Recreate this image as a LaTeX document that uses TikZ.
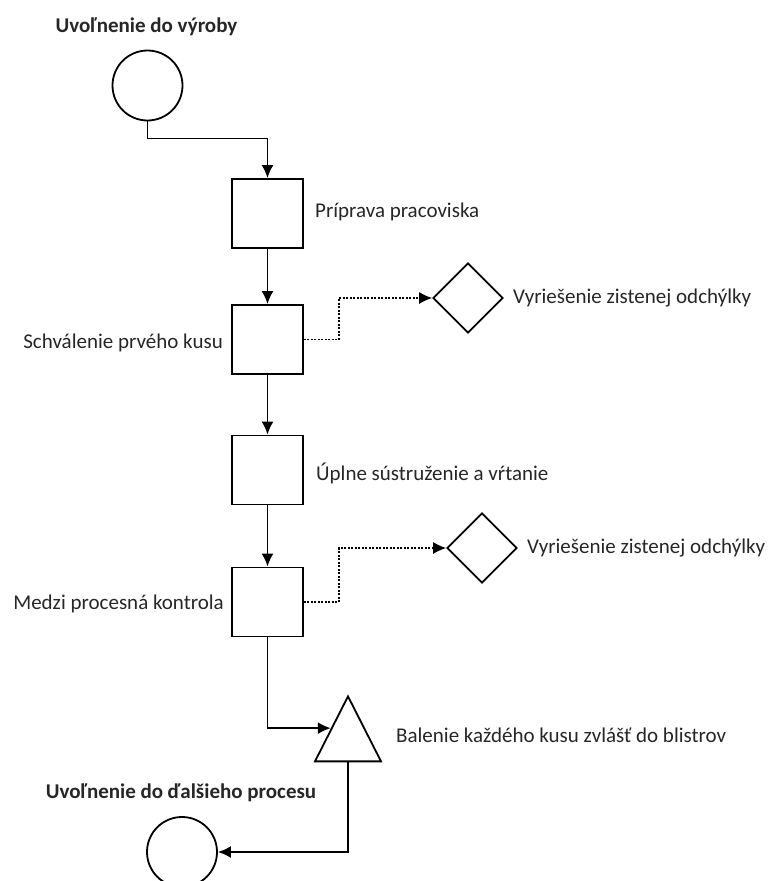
\documentclass[tikz,border=0pt]{standalone}
\usepackage{fontspec}
\setmainfont{Carlito}
\usepackage{tikz}
\usetikzlibrary{shapes.geometric,arrows.meta}

\begin{document}
\begin{tikzpicture}[x=1pt,y=-1pt,
  every node/.style={inner sep=0pt,font=\fontsize{21}{25}\selectfont,text=black!85},
  terminal/.style={draw,line width=1.8pt,circle,minimum size=70pt},
  stepbox/.style={draw,line width=1.8pt,rectangle,minimum width=71pt,minimum height=69pt},
  decision/.style={draw,line width=1.8pt,diamond,minimum width=70pt,minimum height=70pt},
  storage/.style={draw,line width=1.8pt,isosceles triangle,isosceles triangle stretches,
    shape border rotate=90,minimum width=66pt,minimum height=65pt},
  title/.style={font=\fontsize{21}{25}\selectfont\bfseries},
  desc/.style={},
  flow/.style={line width=1.8pt,-{Latex[length=13pt,width=12pt]}},
  check/.style={line width=1.2pt,dash pattern=on 2pt off 1.5pt,-{Latex[length=13pt,width=12pt]}}]
\useasboundingbox (0,0) rectangle (771,881);

\node[title] (starttitle) at (146.5,27) {Uvoľnenie do výroby};
\node[terminal] (start) at (147.5,85.5) {};

\node[stepbox] (prep) at (267.5,213.5) {};
\node[desc,anchor=west] (prepl) at (315,212) {Príprava pracoviska};

\node[stepbox] (approve) at (267.5,339.5) {};
\node[desc,anchor=east] (approvel) at (223,343) {Schválenie prvého kusu};
\node[decision] (fix1) at (468,298) {};
\node[desc,anchor=west] (fix1l) at (513,298) {Vyriešenie zistenej odchýlky};

\node[stepbox] (turn) at (267.5,470) {};
\node[desc,anchor=west] (turnl) at (316,473) {Úplne sústruženie a vŕtanie};

\node[stepbox] (inspect) at (267.5,602) {};
\node[desc,anchor=east] (inspectl) at (224,604) {Medzi procesná kontrola};
\node[decision] (fix2) at (482,548) {};
\node[desc,anchor=west] (fix2l) at (527,548) {Vyriešenie zistenej odchýlky};

\node[storage,anchor=apex] (pack) at (348,694) {};
\node[desc,anchor=west] (packl) at (396,735) {Balenie každého kusu zvlášť do blistrov};

\node[title] (finishtitle) at (181,793) {Uvoľnenie do ďalšieho procesu};
\node[terminal] (finish) at (182,852) {};

\draw[flow] (start.south) -- ++(0,17) -| (prep.north);
\draw[flow] (prep) -- (approve);
\draw[check] (approve.east) -- ++(35,0) |- (fix1.west);
\draw[flow] (approve) -- (turn);
\draw[flow] (turn) -- (inspect);
\draw[check] (inspect.east) -- ++(35,0) |- (fix2.west);
\draw[flow] (inspect.south) |- (pack.left side);
\draw[flow] (pack.lower side) |- (finish.east);
\end{tikzpicture}
\end{document}
